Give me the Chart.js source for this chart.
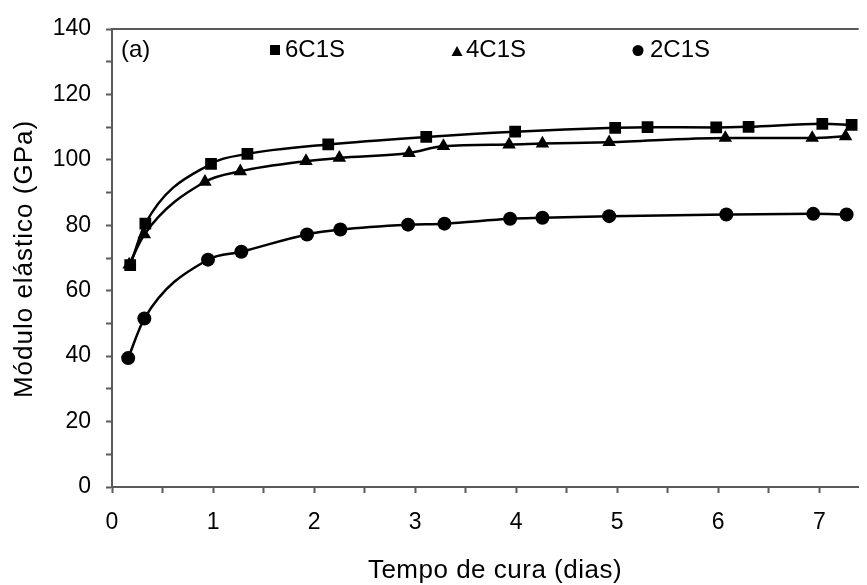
<!DOCTYPE html>
<html>
<head>
<meta charset="utf-8">
<script src="https://cdn.jsdelivr.net/npm/chart.js@4.4.0/dist/chart.umd.min.js"></script>
<style>
    html, body { margin: 0; padding: 0; background: #fff; }
    #wrap { width: 867px; height: 585px; }
</style>
</head>
<body>
<div id="wrap"><canvas id="moduloChart"></canvas></div>
<script>
// series values
var seriesNames = ['6C1S', '4C1S', '2C1S'];

var dias6C1S = [0.18, 0.33, 0.98, 1.34, 2.14, 3.11, 3.99, 4.98, 5.30, 5.98, 6.30, 7.03, 7.32];
var modulo6C1S = [67.8, 80.5, 98.8, 101.8, 104.7, 107.0, 108.6, 109.8, 110.0, 109.9, 110.1, 111.0, 110.7];

var dias4C1S = [0.17, 0.32, 0.92, 1.27, 1.92, 2.25, 2.94, 3.28, 3.93, 4.26, 4.92, 6.07, 6.93, 7.26];
var modulo4C1S = [68.0, 77.2, 93.3, 96.5, 99.6, 100.6, 102.1, 104.2, 104.7, 105.0, 105.4, 106.7, 106.7, 107.2];

var dias2C1S = [0.16, 0.32, 0.95, 1.28, 1.93, 2.26, 2.93, 3.29, 3.94, 4.26, 4.92, 6.08, 6.94, 7.27];
var modulo2C1S = [39.4, 51.5, 69.5, 71.9, 77.2, 78.7, 80.2, 80.5, 82.0, 82.3, 82.8, 83.3, 83.5, 83.3];

var xTitle = 'Tempo de cura (dias)';
var yTitle = 'Módulo elástico (GPa)';
var panelLabel = '(a)';

var FONT = '"Liberation Sans", Arial, Helvetica, sans-serif';
var AXIS_GREY = '#5a5a5a';

function toPoints(xs, ys) {
    return xs.map(function (x, i) {
        return { x: x, y: ys[i] };
    });
}

function isWhole(v) {
    return Math.abs(v - Math.round(v)) < 1e-6;
}

function makeDataset(name, xs, ys, style, radius) {
    return {
        label: name,
        data: toPoints(xs, ys),
        borderColor: '#000',
        backgroundColor: '#000',
        borderWidth: 2.5,
        pointStyle: style,
        pointRadius: radius,
        pointBorderWidth: 0,
        cubicInterpolationMode: 'monotone',
        fill: false
    };
}

// titles, top frame line and the in-plot legend
var decorPlugin = {
    id: 'decor',
    afterDraw: function (chart) {
        var ctx = chart.ctx;
        var area = chart.chartArea;
        ctx.save();

        ctx.strokeStyle = AXIS_GREY;
        ctx.lineWidth = 2;
        ctx.beginPath();
        ctx.moveTo(area.left, area.top);
        ctx.lineTo(area.right, area.top);
        ctx.stroke();

        ctx.fillStyle = '#000';
        ctx.font = '26px ' + FONT;
        ctx.letterSpacing = '0.5px';
        ctx.textAlign = 'center';
        ctx.textBaseline = 'alphabetic';
        ctx.fillText(xTitle, 495, 578);

        ctx.letterSpacing = '1px';
        ctx.translate(32, 259);
        ctx.rotate(-Math.PI / 2);
        ctx.fillText(yTitle, 0, 0);
        ctx.setTransform(1, 0, 0, 1, 0, 0);
        ctx.letterSpacing = '0px';

        ctx.textAlign = 'left';
        ctx.font = '24px ' + FONT;
        ctx.fillText(panelLabel, 121, 57);

        // square
        ctx.fillRect(270, 45, 10, 10);
        ctx.fillText(seriesNames[0], 285, 57);
        // triangle
        ctx.beginPath();
        ctx.moveTo(457, 46);
        ctx.lineTo(462.5, 56);
        ctx.lineTo(451.5, 56);
        ctx.closePath();
        ctx.fill();
        ctx.fillText(seriesNames[1], 466, 57);
        // circle
        ctx.beginPath();
        ctx.arc(638, 50.5, 5.5, 0, Math.PI * 2);
        ctx.fill();
        ctx.fillText(seriesNames[2], 650, 57);

        ctx.restore();
    }
};

var ctx = document.getElementById('moduloChart').getContext('2d');

var moduloChart = new Chart(ctx, {
    type: 'line',
    data: {
        datasets: [
            makeDataset(seriesNames[0], dias6C1S, modulo6C1S, 'rect', 8.3),
            makeDataset(seriesNames[1], dias4C1S, modulo4C1S, 'triangle', 7.8),
            makeDataset(seriesNames[2], dias2C1S, modulo2C1S, 'circle', 7)
        ]
    },
    options: {
        responsive: true,
        maintainAspectRatio: false,
        animation: false,
        layout: { padding: { top: 29, right: 0, left: 0, bottom: 0 } },
        plugins: {
            legend: { display: false },
            tooltip: { enabled: false }
        },
        scales: {
            x: {
                type: 'linear',
                min: 0,
                max: 7.39,
                afterBuildTicks: function (scale) {
                    scale.ticks = scale.ticks.filter(function (t) {
                        return isWhole(t.value * 2);
                    });
                },
                afterFit: function (scale) { scale.height = 98; },
                ticks: {
                    stepSize: 0.5,
                    includeBounds: false,
                    autoSkip: false,
                    maxRotation: 0,
                    padding: 16,
                    color: '#000',
                    font: { family: FONT, size: 23 },
                    callback: function (v) {
                        return isWhole(v) ? String(Math.round(v)) : '';
                    }
                },
                grid: {
                    drawOnChartArea: false,
                    drawTicks: true,
                    tickLength: 6,
                    tickWidth: 2,
                    tickColor: AXIS_GREY
                },
                border: { color: AXIS_GREY, width: 2 }
            },
            y: {
                min: 0,
                max: 140,
                afterFit: function (scale) { scale.width = 112; },
                ticks: {
                    stepSize: 10,
                    padding: 15,
                    color: '#000',
                    font: { family: FONT, size: 23 },
                    callback: function (v) {
                        return v % 20 === 0 ? String(v) : '';
                    }
                },
                grid: {
                    drawOnChartArea: false,
                    drawTicks: true,
                    tickLength: 6,
                    tickWidth: 2,
                    tickColor: AXIS_GREY
                },
                border: { color: AXIS_GREY, width: 2 }
            }
        }
    },
    plugins: [decorPlugin]
});
</script>
</body>
</html>
